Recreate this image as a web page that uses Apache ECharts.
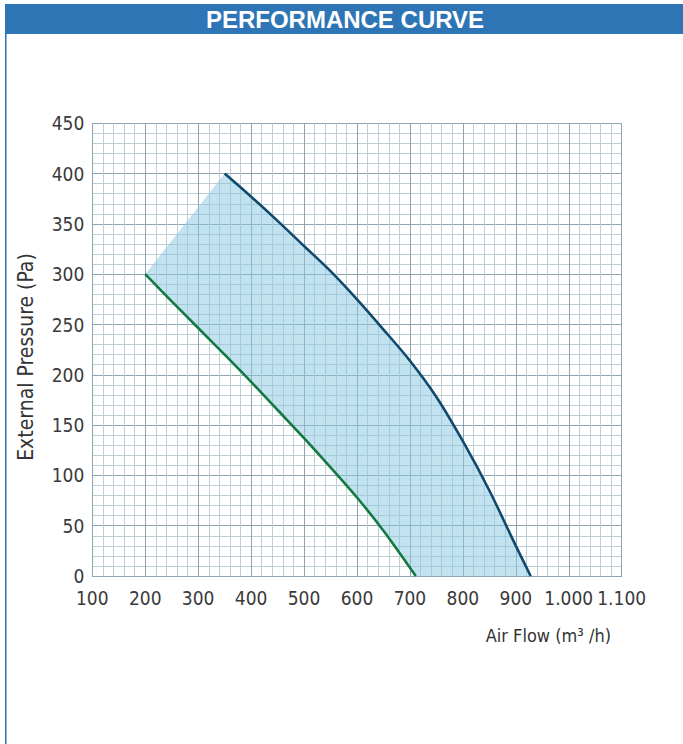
<!DOCTYPE html>
<html>
<head>
<meta charset="utf-8">
<script src="https://cdn.jsdelivr.net/npm/echarts@6/dist/echarts.min.js"></script>
<style>
html,body{margin:0;padding:0;background:#fff;}
#c{width:683px;height:744px;}
</style>
</head>
<body>
<div id="c"></div>
<script>
// Data
const titleText = 'PERFORMANCE CURVE';
const xAxisName = 'Air Flow (m³ /h)';
const yAxisName = 'External Pressure (Pa)';
const upperFlow = [350, 400, 450, 500, 550, 600, 650, 700, 750, 800, 850, 900, 928];
const upperPressure = [400, 377, 353, 328, 303, 275, 245, 214, 178, 134, 85, 30, 0];
const lowerFlow = [200, 250, 300, 350, 400, 450, 500, 550, 600, 650, 711];
const lowerPressure = [300, 273, 246.5, 220, 193, 165, 137, 108, 78, 45, 0];

const upperData = upperFlow.map((x, i) => [x, upperPressure[i]]);
const lowerData = lowerFlow.map((x, i) => [x, lowerPressure[i]]);
const bandPolygon = upperData.concat(lowerData.slice().reverse());

const fmtNum = v => {
  const s = String(v);
  return s.length > 3 ? s.slice(0, s.length - 3) + '.' + s.slice(-3) : s;
};

const labelFont = '"DejaVu Sans Condensed", "DejaVu Sans", sans-serif';

const chart = echarts.init(document.getElementById('c'), null, {renderer: 'svg'});
chart.setOption({
  animation: false,
  backgroundColor: '#ffffff',
  grid: {left: 92.3, right: 61.3, top: 123.3, bottom: 168, containLabel: false},
  xAxis: {
    type: 'value', min: 100, max: 1100, interval: 100,
    axisLine: {show: true, lineStyle: {color: '#8ea5af', width: 1}},
    axisTick: {show: false},
    minorTick: {show: false, splitNumber: 5},
    splitLine: {show: true, lineStyle: {color: '#8ea5af', width: 1}},
    minorSplitLine: {show: true, lineStyle: {color: '#bfced5', width: 1}},
    axisLabel: {
      formatter: fmtNum, color: '#3a3a3a', fontSize: 19, fontFamily: labelFont, margin: 12,
      showMinLabel: true, showMaxLabel: true, hideOverlap: false
    }
  },
  yAxis: {
    type: 'value', min: 0, max: 450, interval: 50,
    axisLine: {show: true, lineStyle: {color: '#8ea5af', width: 1}},
    axisTick: {show: false},
    minorTick: {show: false, splitNumber: 5},
    splitLine: {show: true, lineStyle: {color: '#8ea5af', width: 1}},
    minorSplitLine: {show: true, lineStyle: {color: '#bfced5', width: 1}},
    axisLabel: {
      formatter: fmtNum, color: '#3a3a3a', fontSize: 19, fontFamily: labelFont, margin: 8,
      showMinLabel: true, showMaxLabel: true
    }
  },
  series: [
    {
      type: 'custom',
      coordinateSystem: 'cartesian2d',
      data: bandPolygon,
      clip: false,
      z: 1,
      silent: true,
      renderItem: function (params, api) {
        if (params.dataIndex !== 0) return {type: 'group', children: []};
        const pts = bandPolygon.map(p => api.coord(p));
        return {
          type: 'polygon',
          shape: {points: pts},
          style: {fill: 'rgba(140,200,225,0.52)', stroke: null}
        };
      }
    },
    {
      type: 'line', data: upperData, smooth: 0.3, symbol: 'none', z: 3,
      lineStyle: {color: '#0f4a6e', width: 2.6}
    },
    {
      type: 'line', data: lowerData, smooth: 0.3, symbol: 'none', z: 3,
      lineStyle: {color: '#127a40', width: 2.6}
    }
  ],
  graphic: [
    {type: 'rect', shape: {x: 5, y: 4, width: 678, height: 30}, style: {fill: '#2e75b6'}, z: 10},
    {type: 'rect', shape: {x: 5, y: 34, width: 1.5, height: 710}, style: {fill: '#2e75b6'}, z: 10},
    {type: 'text', x: 345, y: 19, z: 11,
      style: {text: titleText, fill: '#ffffff', font: 'bold 24px "Liberation Sans", Arial, sans-serif', textAlign: 'center', textVerticalAlign: 'middle'}},
    {type: 'text', x: 611, y: 635, z: 11,
      style: {text: xAxisName, fill: '#333333', font: '18px ' + labelFont, textAlign: 'right', textVerticalAlign: 'middle'}},
    {type: 'text', x: 26, y: 357, rotation: Math.PI / 2, z: 11,
      style: {text: yAxisName, fill: '#333333', font: '21px ' + labelFont, textAlign: 'center', textVerticalAlign: 'middle'}}
  ]
});
</script>
</body>
</html>
